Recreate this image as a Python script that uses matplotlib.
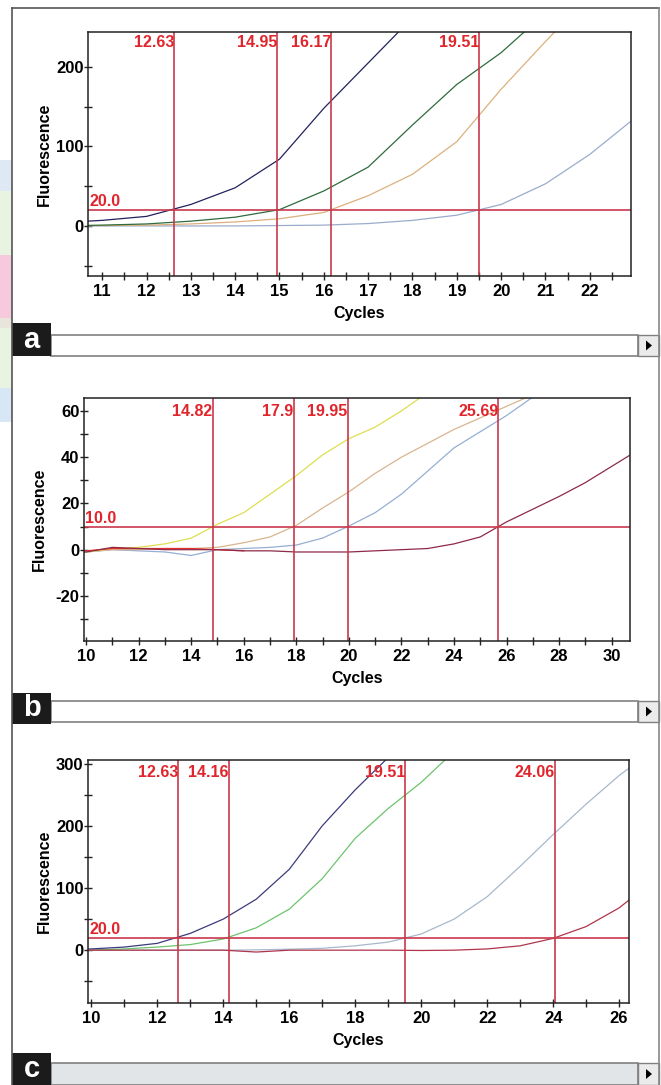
import matplotlib.pyplot as plt
from matplotlib.patches import Rectangle, Polygon
from matplotlib.ticker import MultipleLocator

plt.rcParams['font.family'] = ['Liberation Sans', 'DejaVu Sans']
plt.rcParams['axes.unicode_minus'] = False

W, H = 661, 1085

# ---- panel a : cycles 10..23 ----
cyc_a = list(range(10, 24))
a_navy = [4, 7, 12, 27, 48, 84, 148, 205, 262]
a_green = [0, 1, 2.5, 6, 11, 20.5, 44, 74, 127, 178, 218, 268]
a_tan = [0, 0.5, 1, 2.5, 5, 9, 17, 38, 65, 106, 172, 232, 290]
a_blue = [0, 0, 0, 0, 0, 0.5, 1, 3, 7, 13.5, 27, 53, 90, 135]
a_ct = [12.63, 14.95, 16.17, 19.51]
a_thr = 20.0

# ---- panel b : cycles 9..31 ----
cyc_b = list(range(9, 32))
b_yellow = [-1, -1, 0.5, 1, 2.5, 5, 11, 16, 24, 32, 41, 48, 53, 60, 68]
b_tan = [-1, -1, 0, 0, 0.5, 0.5, 1, 3, 5.5, 10.5, 18, 25, 33, 40, 46, 52, 57, 62, 67]
b_blue = [-1, -1, 0, -0.5, -1, -2.5, 0, 0.5, 1, 2, 5, 10.2, 16, 24, 34, 44, 51, 58, 66]
b_maroon = [-1, -1, 1, 0.5, 0, 0, 0, -0.5, -0.5, -1, -1, -1, -0.5, 0, 0.5, 2.5, 5.5,
            12, 17.5, 23, 29, 36, 43]
b_red = [-0.5, -0.5, 0.5, 0.5, 0.5, 0.5, 0, -0.5]
b_ct = [14.82, 17.9, 19.95, 25.69]
b_thr = 10.0

# ---- panel c : cycles 9..27 ----
cyc_c = list(range(9, 28))
c_navy = [1, 2, 5, 11, 27, 50, 82, 130, 200, 258, 310]
c_green = [0, 0, 2, 5, 9, 18, 36, 66, 115, 180, 228, 270, 320]
c_blue = [0, 0, 0, 0, 0, 0, 0.5, 1.5, 3, 7, 13, 26, 50, 86, 135, 186, 235, 281, 320]
c_maroon = [0, 0, 0, 0, 0, 0, -3, 0, 0, 0, 0, -0.5, 0, 2, 7, 19, 38, 68, 110]
c_ct = [12.63, 14.16, 19.51, 24.06]
c_thr = 20.0

RED_LINE = '#c8384c'
RED_TXT = '#e0262c'


def px_box(l, t, r, b):
    return [l / W, 1 - b / H, (r - l) / W, (b - t) / H]


def rect(fig, l, t, r, b, **kw):
    fig.add_artist(Rectangle((l / W, 1 - b / H), (r - l) / W, (b - t) / H,
                             transform=fig.transFigure, **kw))


def draw_panel(ax, cycles, series, cts, thr, xlim, ylim, xmaj, xmin, ymaj, ymin, ct_off):
    for vals, col in series:
        ax.plot(cycles[:len(vals)], vals, color=col, lw=0.9)
    ax.axhline(thr, color=RED_LINE, lw=1.2)
    for ct in cts:
        ax.axvline(ct, color=RED_LINE, lw=1.2)
        ax.annotate(f'{ct:g}', xy=(ct, 1), xycoords=('data', 'axes fraction'),
                    xytext=(0, -ct_off), textcoords='offset points',
                    ha='right', va='top', color=RED_TXT, fontsize=11.5, fontweight='bold')
    ax.annotate(f'{thr:.1f}', xy=(0, thr), xycoords=('axes fraction', 'data'),
                xytext=(1, 0.5), textcoords='offset points',
                ha='left', va='bottom', color=RED_TXT, fontsize=11.5, fontweight='bold')
    ax.set_xlim(*xlim)
    ax.set_ylim(*ylim)
    ax.xaxis.set_major_locator(MultipleLocator(xmaj))
    ax.xaxis.set_minor_locator(MultipleLocator(xmin))
    ax.yaxis.set_major_locator(MultipleLocator(ymaj))
    ax.yaxis.set_minor_locator(MultipleLocator(ymin))
    ax.tick_params(which='both', direction='inout', length=5.5, width=1.0, color='#222')
    ax.tick_params(axis='y', which='major', pad=0.5, labelsize=12)
    ax.tick_params(axis='x', which='major', pad=3, labelsize=12)
    for lab in ax.get_xticklabels() + ax.get_yticklabels():
        lab.set_fontweight('bold')
    for sp in ax.spines.values():
        sp.set_color('#222')
        sp.set_linewidth(1.1)
    ax.text(-0.081, 0.5, 'Fluorescence', transform=ax.transAxes, rotation=90,
            ha='center', va='center', fontsize=11.5, fontweight='bold')
    ax.text(0.5, -0.155, 'Cycles', transform=ax.transAxes,
            ha='center', va='center', fontsize=11.5, fontweight='bold')


fig = plt.figure(figsize=(W / 100, H / 100), dpi=100)

# side strips of the page
for t, b, col in [(160, 191, '#dfe9f5'), (191, 255, '#e9f3e2'), (255, 318, '#f6c9dd'),
                  (318, 328, '#e9e4dc'), (328, 388, '#e9f3e2'), (388, 422, '#d8e7f5')]:
    rect(fig, 0, t, 12, b, facecolor=col, edgecolor='none')

# outer frame
fig.add_artist(plt.Line2D([12 / W, 12 / W], [0, 1 - 8 / H], transform=fig.transFigure,
                          color='#555', lw=1.2))
fig.add_artist(plt.Line2D([12 / W, 659 / W], [1 - 8 / H, 1 - 8 / H], transform=fig.transFigure,
                          color='#555', lw=1.2))
fig.add_artist(plt.Line2D([659 / W, 659 / W], [0, 1 - 8 / H], transform=fig.transFigure,
                          color='#888', lw=1.2))

ax_a = fig.add_axes(px_box(88, 32, 631, 276))
draw_panel(ax_a, cyc_a,
           [(a_blue, '#9aaccc'), (a_tan, '#dcb07c'), (a_green, '#2f6b3c'), (a_navy, '#22225e')],
           a_ct, a_thr, (10.68, 22.93), (-63, 244), 1, 0.5, 100, 50, 2)

ax_b = fig.add_axes(px_box(84, 398, 630, 641))
draw_panel(ax_b, cyc_b,
           [(b_blue, '#95aed4'), (b_tan, '#d9b58f'), (b_yellow, '#dede50'),
            (b_red, '#e8302a'), (b_maroon, '#8e2a48')],
           b_ct, b_thr, (9.92, 30.7), (-39.5, 65.6), 2, 1, 20, 10, 4.5)

ax_c = fig.add_axes(px_box(88, 760, 629, 1003))
draw_panel(ax_c, cyc_c,
           [(c_blue, '#a8b8cc'), (c_green, '#6cc46c'), (c_navy, '#3b3b7d'), (c_maroon, '#b0344c')],
           c_ct, c_thr, (9.9, 26.3), (-85, 306), 2, 1, 100, 50, 3.5)

# scroll bars and panel letters
for letter, lt, lb, st, sb, fill in [('a', 323, 356, 335, 356, 'white'),
                                     ('b', 693, 724, 701, 722, 'white'),
                                     ('c', 1053, 1085, 1063, 1085, '#e2e5e8')]:
    rect(fig, 51, st, 638, sb, facecolor=fill, edgecolor='#808080', lw=1.2)
    rect(fig, 638, st, 659, sb, facecolor='#ebebeb', edgecolor='#808080', lw=1.0)
    cy = (st + sb) / 2
    fig.add_artist(Polygon([(646 / W, 1 - (cy - 5) / H), (646 / W, 1 - (cy + 5) / H),
                            (652 / W, 1 - cy / H)], closed=True, transform=fig.transFigure,
                           facecolor='black', edgecolor='none'))
    rect(fig, 12, lt, 51, lb, facecolor='#1b1b1b', edgecolor='none')
    fig.text(31.5 / W, 1 - (lt + lb) / 2 / H, letter, color='white', fontsize=21,
             fontweight='bold', ha='center', va='center')

fig.savefig('out.png', dpi=100)
